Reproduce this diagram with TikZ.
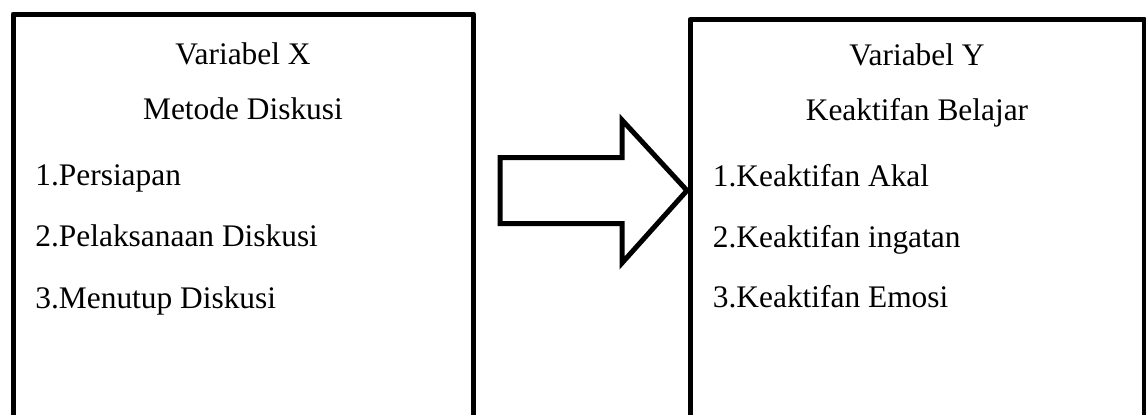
\documentclass[tikz,border=0pt]{standalone}
\usepackage{fontspec}
\setmainfont{Liberation Serif}
\tikzset{
  frame/.style={draw=black, line width=2.5pt, line join=round},
  bigarrow/.style={draw=black, line width=2.5pt, line join=miter, fill=white},
  title/.style={anchor=base, inner sep=0pt, font=\fontsize{15.7}{18}\selectfont},
  item/.style={anchor=base west, inner sep=0pt, font=\fontsize{15.7}{18}\selectfont}
}
\begin{document}
\begin{tikzpicture}[x=0.5pt, y=-0.5pt]
\useasboundingbox (0,0) rectangle (1146,414);
\clip (0,0) rectangle (1146,414);
\fill[white] (0,0) rectangle (1146,414);
% boxes
\draw[frame] (13,440) -- (13,14) -- (473.5,14) -- (473.5,440);
\draw[frame] (690,440) -- (690,19.5) -- (1144,19.5) -- (1144,440);
% arrow
\draw[bigarrow] (500,157.5) -- (622,157.5) -- (622,120) -- (687,190.5) -- (622,263) -- (622,223.5) -- (500,223.5) -- cycle;
% left texts
\node[title] (vx) at (243,64) {Variabel X};
\node[title] (md) at (243,119) {Metode Diskusi};
\node[item] (x1) at (35,185) {1.Persiapan};
\node[item] (x2) at (35,246.5) {2.Pelaksanaan Diskusi};
\node[item] (x3) at (35,308) {3.Menutup Diskusi};
% right texts
\node[title] (vy) at (917,65) {Variabel Y};
\node[title] (kb) at (917,120) {Keaktifan Belajar};
\node[item] (y1) at (712.5,186) {1.Keaktifan Akal};
\node[item] (y2) at (712.5,247) {2.Keaktifan ingatan};
\node[item] (y3) at (712.5,307.5) {3.Keaktifan Emosi};
\end{tikzpicture}
\end{document}
